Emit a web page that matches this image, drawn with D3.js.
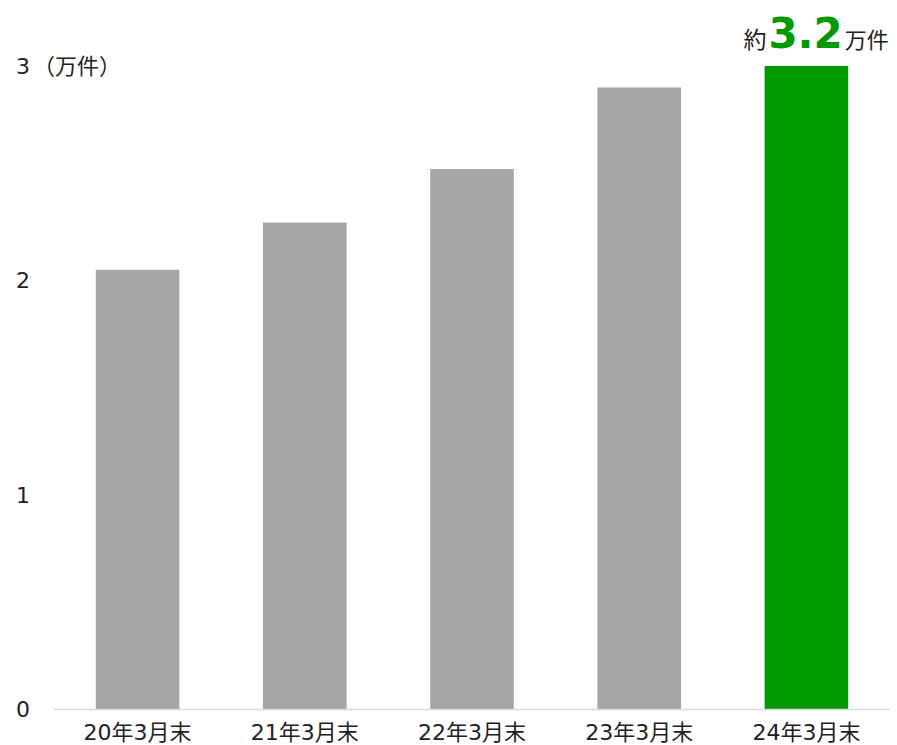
<!DOCTYPE html>
<html>
<head>
<meta charset="utf-8">
<script src="https://cdn.jsdelivr.net/npm/d3@7"></script>
<style>
  body { margin: 0; background: #fff; }
  svg text { font-family: "DejaVu Sans", "Noto Sans CJK JP", sans-serif; }
</style>
</head>
<body>
<svg id="chart" width="897" height="745"></svg>
<script>
// 件数（万件）
const categories = ["20年3月末", "21年3月末", "22年3月末", "23年3月末", "24年3月末"];
const values = [2.05, 2.27, 2.52, 2.90, 3.2];
const yTicks = [0, 1, 2, 3];
const highlightIndex = 4;

const svg = d3.select("#chart");
const plotLeft = 54, plotRight = 890, plotTop = 66, plotBottom = 709.5;

const x = d3.scaleBand().domain(categories).range([plotLeft, plotRight]).paddingInner(0.5).paddingOuter(0.25);
const y = d3.scaleLinear().domain([0, 3]).range([plotBottom, plotTop]).clamp(true);

// bars
svg.append("g").selectAll("rect")
  .data(values)
  .join("rect")
  .attr("x", (d, i) => x(categories[i]))
  .attr("width", x.bandwidth())
  .attr("y", d => y(d))
  .attr("height", d => plotBottom - y(d))
  .attr("fill", (d, i) => i === highlightIndex ? "#009900" : "#a6a6a6");

// baseline
svg.append("line")
  .attr("x1", plotLeft).attr("x2", plotRight)
  .attr("y1", plotBottom).attr("y2", plotBottom)
  .attr("stroke", "#d9d9d9").attr("stroke-width", 1.5);

// y tick labels
const yLab = svg.append("g");
yLab.selectAll("text")
  .data(yTicks)
  .join("text")
  .attr("x", 23)
  .attr("y", d => y(d))
  .attr("dy", "0.36em")
  .attr("text-anchor", "middle")
  .attr("font-size", 22)
  .attr("fill", "#222")
  .text(d => d);
yLab.append("text")
  .attr("x", 33).attr("y", y(3)).attr("dy", "0.36em")
  .attr("font-size", 22).attr("fill", "#222")
  .text("（万件）");

// x labels
svg.append("g").selectAll("text")
  .data(categories)
  .join("text")
  .attr("x", d => x(d) + x.bandwidth() / 2)
  .attr("y", 740)
  .attr("text-anchor", "middle")
  .attr("font-size", 22)
  .attr("fill", "#222")
  .text(d => d);

// value callout on highlighted bar
const hx = x(categories[highlightIndex]) + x.bandwidth() / 2;
const callout = svg.append("text")
  .attr("x", hx - 63).attr("y", 48)
  .attr("text-anchor", "start")
  .attr("fill", "#222");
callout.append("tspan").attr("font-size", 23).text("約");
callout.append("tspan").attr("font-size", 42).attr("font-weight", "bold")
  .attr("dx", 2)
  .attr("fill", "#009900").text(values[highlightIndex].toFixed(1));
callout.append("tspan").attr("font-size", 22).attr("dx", 2).text("万件");
</script>
</body>
</html>
